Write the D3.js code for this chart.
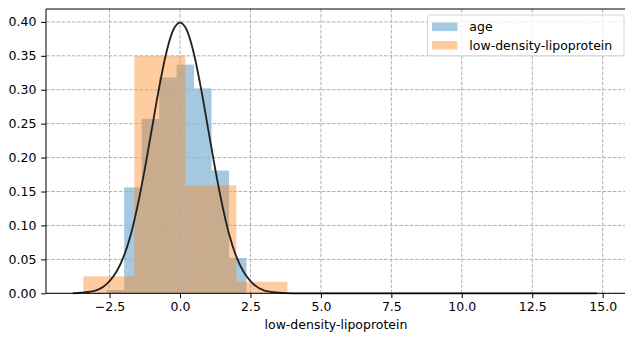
<!DOCTYPE html>
<html>
<head>
<meta charset="utf-8">
<script src="https://cdn.jsdelivr.net/npm/d3@7"></script>
<style>
  html, body { margin: 0; background: #fff; overflow: hidden; }
  svg { display: block; font-family: "DejaVu Sans", sans-serif; overflow: hidden; }
</style>
</head>
<body>
<div id="chart"></div>
<script>
// histogram bin edges and densities
var age_edges = [-2.60, -1.98, -1.36, -0.74, -0.12, 0.50, 1.12, 1.74, 2.36];
var age_density = [0.005, 0.156, 0.257, 0.318, 0.337, 0.302, 0.181, 0.052];

var ldl_edges = [-3.43, -1.62, 0.19, 2.00, 3.81];
var ldl_density = [0.025, 0.350, 0.159, 0.017];

// fitted curve points
var curve_x = [-3.8, -3.5, -3.0, -2.5, -2.25, -2.0, -1.75, -1.5, -1.25, -1.0, -0.75, -0.5, -0.25, 0,
               0.25, 0.5, 0.75, 1.0, 1.25, 1.5, 1.75, 2.0, 2.25, 2.5, 3.0, 3.5, 4.0, 14.8];
var curve_y = [0.000, 0.001, 0.004, 0.018, 0.032, 0.054, 0.086, 0.130, 0.183, 0.242, 0.301, 0.352, 0.387, 0.399,
               0.387, 0.352, 0.301, 0.242, 0.183, 0.130, 0.086, 0.054, 0.032, 0.018, 0.004, 0.001, 0.000, 0.000];

var x_ticks = [-2.5, 0, 2.5, 5, 7.5, 10, 12.5, 15];
var y_ticks = [0, 0.05, 0.10, 0.15, 0.20, 0.25, 0.30, 0.35, 0.40];

var series_names = ["age", "low-density-lipoprotein"];
var series_colours = ["#1f77b4", "#ff7f0e"];

var W = 625, H = 337;
var margin = {top: 9, right: -20, bottom: 43.7, left: 46};
var iw = W - margin.left - margin.right;
var ih = H - margin.top - margin.bottom;
var fs = "12.5px";

var svg = d3.select("#chart").append("svg").attr("width", W).attr("height", H);
var g = svg.append("g").attr("transform", "translate(" + margin.left + "," + margin.top + ")");

var x = d3.scaleLinear().domain([-4.755, -4.755 + iw / 28.18]).range([0, iw]);
var y = d3.scaleLinear().domain([0, 0.419]).range([ih, 0]);

function bins(edges, dens) {
    return dens.map(function (d, i) {
        return {x0: edges[i], x1: edges[i + 1], v: d};
    });
}

var hists = [bins(age_edges, age_density), bins(ldl_edges, ldl_density)];

hists.forEach(function (h, k) {
    g.append("g").selectAll("rect").data(h).enter().append("rect")
        .attr("x", function (d) { return x(d.x0); })
        .attr("width", function (d) { return x(d.x1) - x(d.x0); })
        .attr("y", function (d) { return y(d.v); })
        .attr("height", function (d) { return y(0) - y(d.v); })
        .attr("fill", series_colours[k])
        .attr("fill-opacity", 0.4);
});

// grid
var grid = g.append("g").attr("stroke", "#b0b0b0").attr("stroke-width", 1)
    .attr("stroke-dasharray", "3.6,1.6");
grid.selectAll(".gx").data(x_ticks).enter().append("line")
    .attr("x1", function (d) { return x(d); }).attr("x2", function (d) { return x(d); })
    .attr("y1", 0).attr("y2", ih);
grid.selectAll(".gy").data(y_ticks).enter().append("line")
    .attr("y1", function (d) { return y(d); }).attr("y2", function (d) { return y(d); })
    .attr("x1", 0).attr("x2", iw);

// curve
var pts = curve_x.map(function (v, i) { return [v, curve_y[i]]; });
g.append("path").datum(pts)
    .attr("fill", "none").attr("stroke", "#222").attr("stroke-width", 1.85)
    .attr("d", d3.line().x(function (d) { return x(d[0]); }).y(function (d) { return y(d[1]); })
        .curve(d3.curveMonotoneX));

// axes
var fmtX = function (d) { return d3.format(".1f")(d).replace("-", "\u2212"); };
var xAxis = g.append("g").attr("transform", "translate(0," + ih + ")")
    .call(d3.axisBottom(x).tickValues(x_ticks).tickFormat(fmtX).tickSize(4.8).tickPadding(4));
var yAxis = g.append("g")
    .call(d3.axisLeft(y).tickValues(y_ticks).tickFormat(d3.format(".2f")).tickSize(4.8).tickPadding(4.8));
[xAxis, yAxis].forEach(function (a) {
    a.select(".domain").remove();
    a.selectAll("text").attr("font-size", fs).attr("fill", "#000")
        .attr("font-family", "DejaVu Sans");
    a.selectAll("line").attr("stroke", "#000").attr("stroke-width", 1);
});

// spines: left, top, bottom (right one falls outside the picture)
var sp = g.append("g").attr("stroke", "#000").attr("stroke-width", 1);
sp.append("line").attr("x1", 0).attr("x2", 0).attr("y1", 0).attr("y2", ih);
sp.append("line").attr("x1", 0).attr("x2", iw).attr("y1", 0).attr("y2", 0);
sp.append("line").attr("x1", 0).attr("x2", iw).attr("y1", ih).attr("y2", ih);

g.append("text").attr("x", 336 - margin.left).attr("y", ih + 35.5)
    .attr("text-anchor", "middle").attr("font-size", fs)
    .text("low-density-lipoprotein");

// legend
var lg = svg.append("g").attr("transform", "translate(427.5,15)");
lg.append("rect").attr("width", 196.5).attr("height", 40.7).attr("rx", 2)
    .attr("fill", "#fff").attr("fill-opacity", 0.8).attr("stroke", "#d6d6d6").attr("stroke-width", 1);
series_names.forEach(function (n, i) {
    lg.append("rect").attr("x", 4.5).attr("y", 7.5 + i * 18.5).attr("width", 25.5).attr("height", 8.6)
        .attr("fill", series_colours[i]).attr("fill-opacity", 0.4);
    lg.append("text").attr("x", 41.8).attr("y", 16.3 + i * 18.5)
        .attr("font-size", fs).text(n);
});
</script>
</body>
</html>
